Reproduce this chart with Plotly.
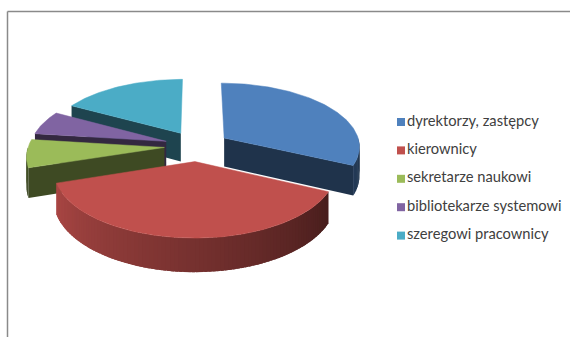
import math
import plotly.graph_objects as go

# Staff structure shares (%)
categories = ["dyrektorzy, zastępcy", "kierownicy", "sekretarze naukowi",
              "bibliotekarze systemowi", "szeregowi pracownicy"]
shares = [32, 38, 7, 6, 17]
colors = ["#4F81BD", "#C0504D", "#9BBB59", "#8064A2", "#4BACC6"]

# Pseudo-3D pie projection (plot units = pixels)
CX, CY = 197, 146      # centre of the unexploded top face
R = 136                # horizontal radius
TILT = 0.465           # vertical squash of the disc
PERSP = 0.12           # perspective strength (front larger than back)
DEPTH = 29             # thickness of the disc
EXPLODE = 0.24         # slice pull, fraction of radius
W, H = 570, 337


def proj(x, v, z):
    """x: right, v: toward viewer, z: 0 = top face, 1 = bottom face."""
    s = 1.0 / (1.0 - PERSP * v)
    return CX + R * x * s, CY + R * TILT * v * s + DEPTH * z * s


def shade(hex_color, f):
    h = hex_color.lstrip("#")
    r, g, b = (int(h[i:i + 2], 16) for i in (0, 2, 4))
    return "rgb({},{},{})".format(int(r * f), int(g * f), int(b * f))


def rim(theta_deg, ox, ov):
    t = math.radians(theta_deg)
    return ox + math.sin(t), ov - math.cos(t)


def quad(p0, p1, p2, p3):
    pts = [p0, p1, p2, p3, p0]
    return [p[0] for p in pts], [p[1] for p in pts]


total = float(sum(shares))
slices = []
start = 0.0
for name, val, col in zip(categories, shares, colors):
    span = 360.0 * val / total
    end = start + span
    mid = math.radians((start + end) / 2)
    ox, ov = EXPLODE * math.sin(mid), -EXPLODE * math.cos(mid)
    slices.append(dict(name=name, col=col, s=start, e=end, ox=ox, ov=ov))
    start = end

walls = []   # (depth, xs, ys, colour)
tops = []

for sl in slices:
    s, e, ox, ov, col = sl["s"], sl["e"], sl["ox"], sl["ov"], sl["col"]

    # top face
    n = max(2, int(e - s))
    xs, ys = [], []
    px, py = proj(ox, ov, 0)
    xs.append(px); ys.append(py)
    for k in range(n + 1):
        th = s + (e - s) * k / n
        wx, wv = rim(th, ox, ov)
        px, py = proj(wx, wv, 0)
        xs.append(px); ys.append(py)
    xs.append(xs[0]); ys.append(ys[0])
    tops.append((xs, ys, col))

    # radial faces
    for th, visible in ((s, -math.sin(math.radians(s)) > 1e-6),
                        (e, math.sin(math.radians(e)) > 1e-6)):
        if not visible:
            continue
        wx, wv = rim(th, ox, ov)
        fx, fy = quad(proj(ox, ov, 0), proj(wx, wv, 0),
                      proj(wx, wv, 1), proj(ox, ov, 1))
        walls.append(((ov + wv) / 2 - 0.5, fx, fy, shade(col, 0.40)))

    # outer curved wall, front half only, with a horizontal gradient;
    # strips overlap slightly so no seams show between them
    a0, a1 = max(s, 90.0), min(e, 270.0)
    if a1 > a0:
        steps = max(1, int((a1 - a0) / 1.5))
        for k in range(steps):
            t0 = a0 + (a1 - a0) * k / steps
            t1 = a0 + (a1 - a0) * (k + 1) / steps
            frac = ((t0 + t1) / 2 - a0) / 137.0
            f = 0.37 + 0.52 * frac
            t1o = min(a1, t1 + 1.2)
            x0, v0 = rim(t0, ox, ov)
            x1, v1 = rim(t1o, ox, ov)
            xm, vm = rim((t0 + t1o) / 2, ox, ov)
            top_pts = [proj(x0, v0, 0), proj(xm, vm, 0), proj(x1, v1, 0)]
            bot_pts = [proj(x1, v1, 1), proj(xm, vm, 1), proj(x0, v0, 1)]
            pts = top_pts + bot_pts + [top_pts[0]]
            # draw later strips (by angle) on top of earlier ones within a slice
            walls.append((ov + 0.001 * k, [p[0] for p in pts],
                          [p[1] for p in pts], shade(col, f)))

fig = go.Figure()

for _, fx, fy, c in sorted(walls, key=lambda w: w[0]):
    fig.add_trace(go.Scatter(x=fx, y=fy, mode="lines", fill="toself",
                             fillcolor=c, line=dict(width=0),
                             hoverinfo="skip", showlegend=False))

for (fx, fy, c), sl, val in zip(tops, slices, shares):
    fig.add_trace(go.Scatter(x=fx, y=fy, mode="lines", fill="toself",
                             fillcolor=c, line=dict(color=c, width=0.5),
                             name=sl["name"], text="{} %".format(val),
                             hoveron="fills", showlegend=False))

# legend: coloured squares with labels
LEG_X, LEG_Y0, LEG_DY = 401, 122, 28.4
fig.add_trace(go.Scatter(
    x=[LEG_X] * len(categories),
    y=[LEG_Y0 + LEG_DY * i for i in range(len(categories))],
    mode="markers+text",
    marker=dict(symbol="square", size=8, color=colors),
    text=categories, textposition="middle right",
    textfont=dict(family="Lato", size=14.7, color="#404040"),
    hoverinfo="skip", showlegend=False,
))

# chart-area frame
frame = dict(color="#8a8a8a", width=1.5)
fig.add_shape(type="line", x0=7.5, y0=11.5, x1=W + 5, y1=11.5, line=frame)
fig.add_shape(type="line", x0=7.5, y0=11.5, x1=7.5, y1=H + 5, line=frame)

fig.update_layout(
    width=W, height=H,
    margin=dict(l=0, r=0, t=0, b=0),
    paper_bgcolor="white", plot_bgcolor="white",
    xaxis=dict(range=[0, W], visible=False, fixedrange=True),
    yaxis=dict(range=[H, 0], visible=False, fixedrange=True),
    showlegend=False,
)

fig.write_html("out.html")
